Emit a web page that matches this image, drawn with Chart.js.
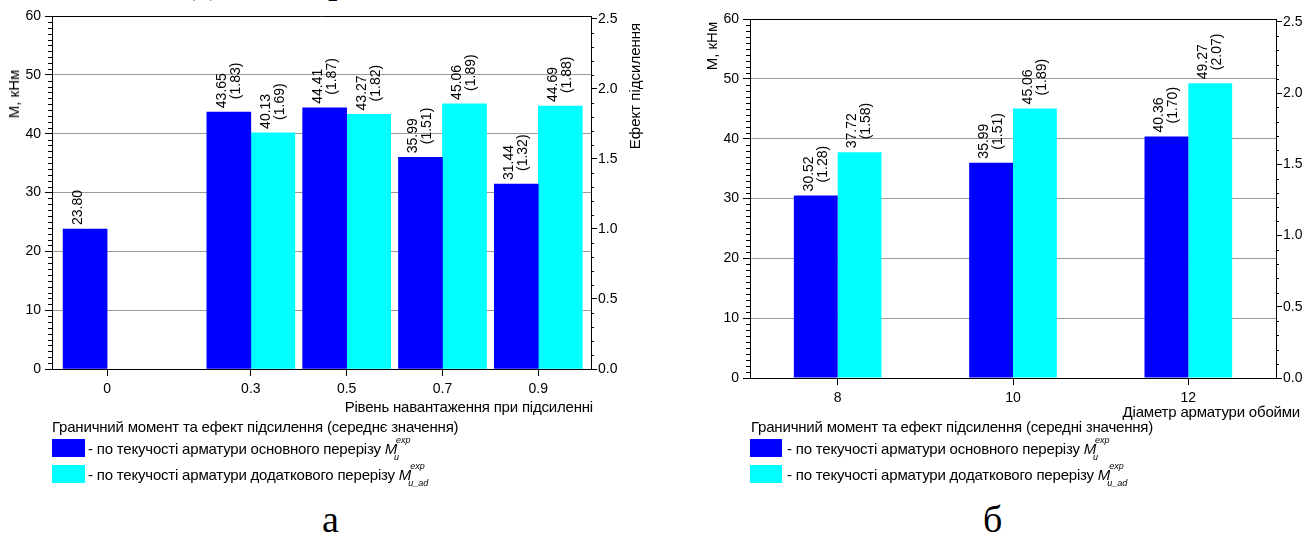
<!DOCTYPE html>
<html>
<head>
<meta charset="utf-8">
<script src="https://cdn.jsdelivr.net/npm/chart.js@4.4.0/dist/chart.umd.min.js"></script>
<style>
  body { margin: 0; background: #fff; }
  #page { position: relative; width: 1314px; height: 535px; overflow: hidden; background: #fff;
          font-family: 'Liberation Sans', Arial, sans-serif; color: #000; }
  canvas { position: absolute; top: 0; }
  .t { position: absolute; white-space: nowrap; font-size: 15px; line-height: 18px; letter-spacing: -0.2px; }
  .rot { position: absolute; white-space: nowrap; font-size: 15px; line-height: 16px;
         transform: translate(-50%, -50%) rotate(-90deg); }
  .box { position: absolute; width: 33px; height: 18px; }
  .cap { position: absolute; font-family: 'Liberation Serif', 'Times New Roman', serif; font-size: 38px; line-height: 38px; }
  .ss { display: inline-block; position: relative; width: 14px; height: 15px; }
  .ss.wide { width: 30px; }
  .ss i { position: absolute; left: 0; font-size: 9px; line-height: 9px; letter-spacing: 0; }
  .ss .up { top: -3px; left: -1px; }
  .ss .dn { top: 14px; left: -3px; }
</style>
</head>
<body>
<div id="page">
  <span class="cap" style="left:193px; top:-39px">д</span>
  <span class="cap" style="left:328px; top:-39px">р</span>
  <span class="cap" style="left:426px; top:-39px">,</span>

  <canvas id="levelChart" width="660" height="420" style="left:0"></canvas>
  <canvas id="diamChart" width="634" height="420" style="left:680px"></canvas>

  <div class="rot" style="left:14px; top:94px">М, кНм</div>
  <div class="rot" style="left:635px; top:86px">Ефект підсилення</div>
  <div class="rot" style="left:712px; top:46px">М, кНм</div>

  <div class="t" style="right:721px; top:398px">Рівень навантаження при підсиленні</div>
  <div class="t" style="left:52px; top:418px">Граничний момент та ефект підсилення (середнє значення)</div>
  <div class="box" style="left:52px; top:439px; background:#0000ff"></div>
  <div class="t" style="left:88px; top:439px">- по текучості арматури основного перерізу <i>M</i><span class="ss"><i class="up">exp</i><i class="dn">u</i></span></div>
  <div class="box" style="left:52px; top:465px; background:#00ffff"></div>
  <div class="t" style="left:88px; top:465px">- по текучості арматури додаткового перерізу <i>M</i><span class="ss wide"><i class="up">exp</i><i class="dn">u_ad</i></span></div>

  <div class="t" style="right:14px; top:403px">Діаметр арматури обойми</div>
  <div class="t" style="left:751px; top:418px">Граничний момент та ефект підсилення (середні значення)</div>
  <div class="box" style="left:750px; top:439px; width:32px; background:#0000ff"></div>
  <div class="t" style="left:787px; top:439px">- по текучості арматури основного перерізу <i>M</i><span class="ss"><i class="up">exp</i><i class="dn">u</i></span></div>
  <div class="box" style="left:750px; top:465px; width:32px; background:#00ffff"></div>
  <div class="t" style="left:787px; top:465px">- по текучості арматури додаткового перерізу <i>M</i><span class="ss wide"><i class="up">exp</i><i class="dn">u_ad</i></span></div>

  <span class="cap" style="left:322px; top:500px">а</span>
  <span class="cap" style="left:983px; top:500px">б</span>
</div>
<script>
// chart a: load level at strengthening
const levels = [0, 0.3, 0.5, 0.7, 0.9];
const levelBaseM = [23.80, 43.65, 44.41, 35.99, 31.44];
const levelBaseEff = [null, 1.83, 1.87, 1.51, 1.32];
const levelAddM = [null, 40.13, 43.27, 45.06, 44.69];
const levelAddEff = [null, 1.69, 1.82, 1.89, 1.88];

// chart b: jacket rebar diameter
const diameters = ['8', '10', '12'];
const diamBaseM = [30.52, 35.99, 40.36];
const diamBaseEff = [1.28, 1.51, 1.70];
const diamAddM = [37.72, 45.06, 49.27];
const diamAddEff = [1.58, 1.89, 2.07];

const effTicks = [0, 0.5, 1.0, 1.5, 2.0, 2.5];

const FONT = "'Liberation Sans', Arial, sans-serif";
const BLUE = '#0000ff';
const CYAN = '#00ffff';

// value + (effect) written upwards above every bar
const barLabels = {
    id: 'barLabels',
    afterDatasetsDraw(chart) {
        const ctx = chart.ctx;
        chart.data.datasets.forEach((ds, di) => {
            const meta = chart.getDatasetMeta(di);
            meta.data.forEach((bar, i) => {
                const raw = ds.data[i];
                const val = (raw !== null && typeof raw === 'object') ? raw.y : raw;
                if (val == null) return;
                const eff = ds.eff[i];
                ctx.save();
                ctx.translate(bar.x, bar.y);
                ctx.rotate(-Math.PI / 2);
                ctx.font = '14px ' + FONT;
                ctx.fillStyle = '#000';
                ctx.textBaseline = 'middle';
                ctx.textAlign = 'left';
                ctx.fillText(val.toFixed(2), 4, -7);
                if (eff != null) ctx.fillText('(' + eff.toFixed(2) + ')', 13, 7);
                ctx.restore();
            });
        });
    }
};

// top border and minor ticks on both value axes
const frame = {
    id: 'frame',
    afterDraw(chart) {
        const { ctx, chartArea: a } = chart;
        const yl = chart.scales.y, yr = chart.scales.y1;
        ctx.save();
        ctx.strokeStyle = '#000';
        ctx.lineWidth = 1;
        ctx.beginPath();
        ctx.moveTo(a.left, Math.round(a.top) + 0.5);
        ctx.lineTo(a.right, Math.round(a.top) + 0.5);
        for (let v = 1; v < 60; v++) {
            if (v % 10 === 0) continue;
            const p = Math.round(yl.getPixelForValue(v)) + 0.5;
            ctx.moveTo(a.left, p);
            ctx.lineTo(a.left - 4, p);
        }
        for (let k = 1; k <= 25; k++) {
            if (k % 5 === 0) continue;
            const p = Math.round(yr.getPixelForValue(k / 10)) + 0.5;
            ctx.moveTo(a.right, p);
            ctx.lineTo(a.right + 3, p);
        }
        ctx.stroke();
        ctx.restore();
    }
};

function tickFont() {
    return { family: FONT, size: 14 };
}

function valueScales(leftWidth, rightWidth) {
    return {
        y: {
            position: 'left',
            min: 0,
            max: 60,
            ticks: { stepSize: 10, font: tickFont(), color: '#000', padding: 4 },
            grid: {
                color: c => (c.tick && c.tick.value > 0 && c.tick.value < 60) ? '#9a9a9a' : 'rgba(0,0,0,0)',
                tickColor: '#000',
                tickLength: 7
            },
            border: { color: '#000' },
            afterFit: s => { s.width = leftWidth; }
        },
        y1: {
            position: 'right',
            min: 0,
            max: 2.52,
            afterBuildTicks: s => { s.ticks = effTicks.map(v => ({ value: v })); },
            ticks: { callback: v => Number(v).toFixed(1), font: tickFont(), color: '#000', padding: 1 },
            grid: { drawOnChartArea: false, tickColor: '#000', tickLength: 6 },
            border: { color: '#000' },
            afterFit: s => { s.width = rightWidth; }
        }
    };
}

function baseOptions() {
    return {
        responsive: false,
        animation: false,
        devicePixelRatio: 1,
        plugins: { legend: { display: false }, tooltip: { enabled: false } }
    };
}

// chart a
new Chart(document.getElementById('levelChart'), {
    type: 'bar',
    data: {
        datasets: [
            {
                data: levels.map((x, i) => ({ x: x, y: levelBaseM[i] })),
                eff: levelBaseEff,
                backgroundColor: BLUE,
                barThickness: 44
            },
            {
                data: levels.map((x, i) => ({ x: x, y: levelAddM[i] })),
                eff: levelAddEff,
                backgroundColor: CYAN,
                barThickness: 44
            }
        ]
    },
    options: Object.assign(baseOptions(), {
        layout: { padding: { top: 16, left: 0, right: 0, bottom: 0 } },
        scales: Object.assign({
            x: {
                type: 'linear',
                min: -0.115,
                max: 1.01,
                offset: false,
                afterBuildTicks: s => { s.ticks = levels.map(v => ({ value: v })); },
                ticks: { callback: v => String(v), font: tickFont(), color: '#000', padding: 5, maxRotation: 0, autoSkip: false },
                grid: { offset: false, drawOnChartArea: false, tickColor: '#000', tickLength: 7 },
                border: { color: '#000' },
                afterFit: s => { s.height = 420 - 369; }
            }
        }, valueScales(52, 660 - 591))
    }),
    plugins: [barLabels, frame]
});

// chart b
new Chart(document.getElementById('diamChart'), {
    type: 'bar',
    data: {
        labels: diameters,
        datasets: [
            { data: diamBaseM, eff: diamBaseEff, backgroundColor: BLUE, categoryPercentage: 0.5, barPercentage: 1.0 },
            { data: diamAddM, eff: diamAddEff, backgroundColor: CYAN, categoryPercentage: 0.5, barPercentage: 1.0 }
        ]
    },
    options: Object.assign(baseOptions(), {
        layout: { padding: { top: 19, left: 0, right: 0, bottom: 0 } },
        scales: Object.assign({
            x: {
                ticks: { font: tickFont(), color: '#000', padding: 5, maxRotation: 0 },
                grid: { offset: false, drawOnChartArea: false, tickColor: '#000', tickLength: 7 },
                border: { color: '#000' },
                afterFit: s => { s.height = 420 - 378; }
            }
        }, valueScales(70, 634 - 596))
    }),
    plugins: [barLabels, frame]
});
</script>
</body>
</html>
